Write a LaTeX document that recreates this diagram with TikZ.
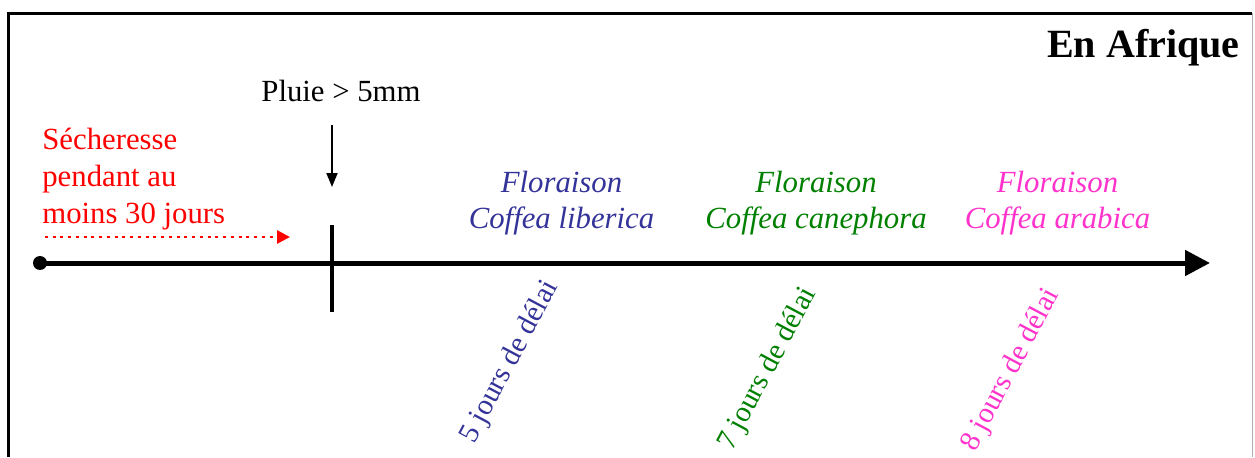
\documentclass[tikz,border=0pt]{standalone}
\usepackage{fontspec}
\setmainfont{Liberation Serif}
\usetikzlibrary{arrows.meta}
\definecolor{bleu}{RGB}{51,51,153}
\definecolor{vert}{RGB}{0,128,0}
\definecolor{rose}{RGB}{255,51,204}
\tikzset{
  texte/.style={inner sep=0pt, font=\fontsize{17.5}{20.8}\selectfont},
  floraison/.style={inner sep=0pt, align=center, anchor=base, font=\fontsize{17.5}{20}\selectfont\itshape},
  delai/.style={inner sep=0pt, rotate=62, font=\fontsize{16.6}{20}\selectfont}
}
\begin{document}
\begin{tikzpicture}
\useasboundingbox (0,0) rectangle (25.1,9.14);
\draw[line width=0.06cm] (0.18,0)--(0.18,8.88)--(25.04,8.88);
\draw[gray!60, line width=0.02cm] (25.04,8.88)--(25.04,0);
\node[inner sep=0pt, anchor=base east, font=\fontsize{22.8}{27}\selectfont\bfseries] (afrique) at (24.8,8.0) {En Afrique};
\node[circle, fill, inner sep=0pt, minimum size=0.28cm] (debut) at (0.8,3.88) {};
\coordinate (fin) at (24.2,3.88);
\draw[line width=0.1cm, -{Triangle[length=0.5cm,width=0.5cm]}] (debut.center)--(fin);
\coordinate (tick haut) at (6.64,4.64);
\coordinate (tick bas) at (6.64,2.9);
\draw[line width=0.08cm] (tick haut)--(tick bas);
\node[texte, anchor=base] (pluie) at (6.82,7.12) {Pluie > 5mm};
\coordinate (pluie haut) at (6.64,6.64);
\coordinate (pluie bas) at (6.64,5.4);
\draw[line width=0.04cm, -{Triangle[length=0.28cm,width=0.22cm]}] (pluie haut)--(pluie bas);
\node[texte, red, align=left, anchor=base west] (secheresse) at (0.84,4.68) {Sécheresse\\pendant au\\moins 30 jours};
\coordinate (sec debut) at (0.9,4.4);
\coordinate (sec fin) at (5.8,4.4);
\draw[red, line width=0.055cm, dash pattern=on 0.06cm off 0.095cm, -{Triangle[length=0.26cm,width=0.26cm]}] (sec debut)--(sec fin);
\node[floraison, bleu] (liberica) at (11.23,4.58) {Floraison\\Coffea liberica};
\node[floraison, vert] (canephora) at (16.32,4.58) {Floraison\\Coffea canephora};
\node[floraison, rose] (arabica) at (21.15,4.58) {Floraison\\Coffea arabica};
\node[delai, bleu] (delai liberica) at (10.2,1.9) {5 jours de délai};
\node[delai, vert] (delai canephora) at (15.36,1.76) {7 jours de délai};
\node[delai, rose] (delai arabica) at (20.22,1.74) {8 jours de délai};
\end{tikzpicture}
\end{document}
